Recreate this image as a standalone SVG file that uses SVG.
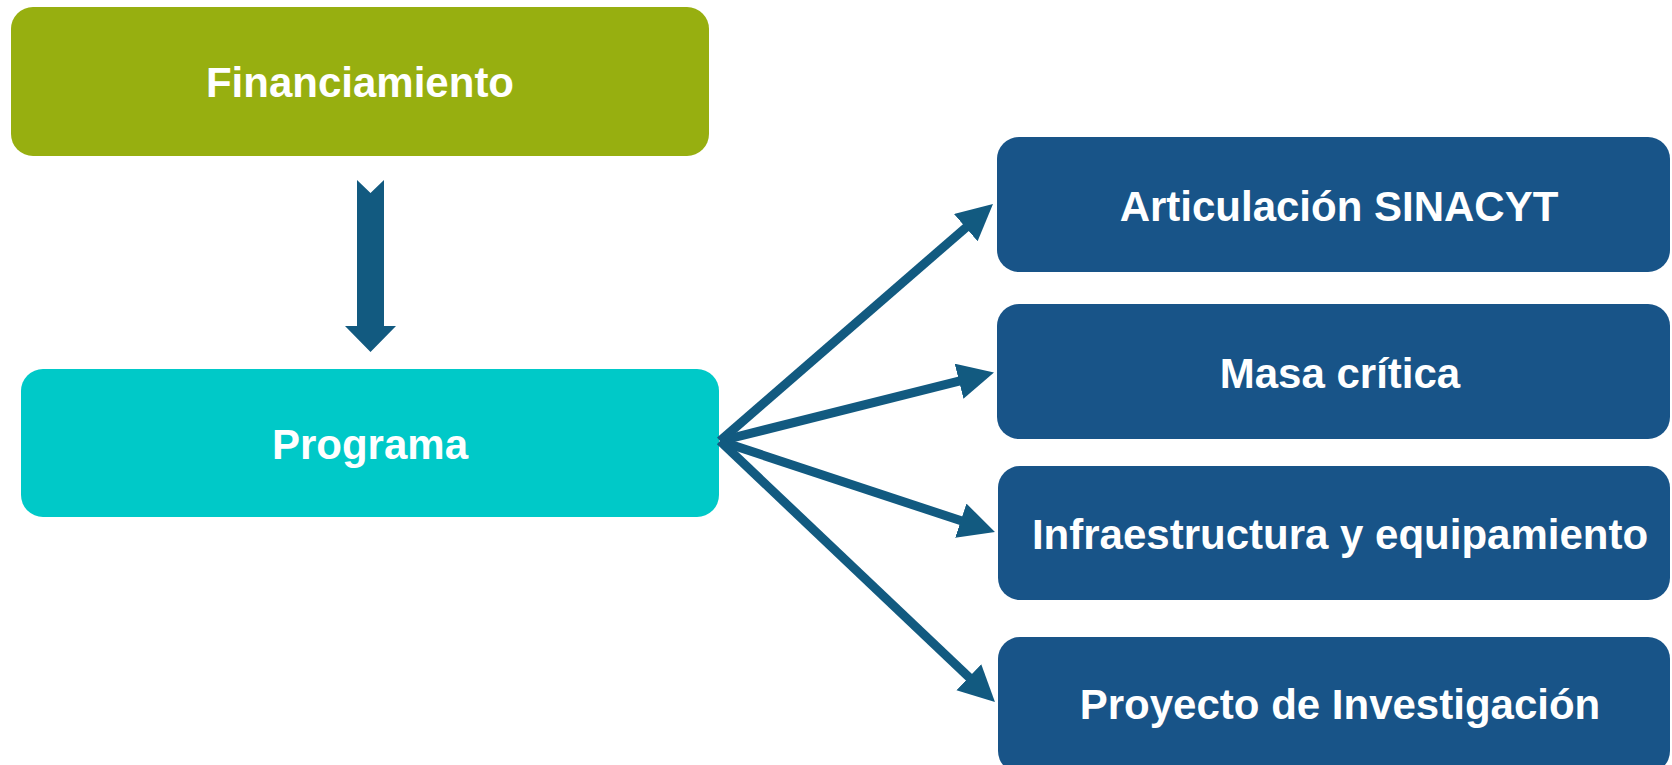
<svg xmlns="http://www.w3.org/2000/svg" width="1672" height="765" viewBox="0 0 1672 765">
  <style>
    .lbl { font-family: "Liberation Sans", Arial, sans-serif; font-weight: bold; font-size: 42px; fill: #ffffff; text-anchor: middle; }
    .blue { fill: #185488; }
    .conn { stroke: #125A80; stroke-width: 9; fill: none; }
  </style>
  <defs>
    <marker id="head" markerUnits="userSpaceOnUse" markerWidth="40" markerHeight="40" refX="2" refY="18" orient="auto" viewBox="0 0 40 40">
      <path d="M0,0 L36,18 L0,36 Z" fill="#125A80"/>
    </marker>
  </defs>
  <rect width="1672" height="765" fill="#ffffff"/>

  <g id="financiamiento">
    <rect x="11" y="7" width="698" height="149" rx="22" fill="#97AF10"/>
    <text class="lbl" x="360" y="97">Financiamiento</text>
  </g>
  <g id="programa">
    <rect x="21" y="369" width="698" height="148" rx="22" fill="#00C9C8"/>
    <text class="lbl" x="370" y="459">Programa</text>
  </g>
  <g id="articulacion">
    <rect class="blue" x="997" y="137" width="673" height="135" rx="22"/>
    <text class="lbl" x="1339" y="221">Articulación SINACYT</text>
  </g>
  <g id="masa">
    <rect class="blue" x="997" y="304" width="673" height="135" rx="22"/>
    <text class="lbl" x="1340" y="388">Masa crítica</text>
  </g>
  <g id="infraestructura">
    <rect class="blue" x="998" y="466" width="672" height="134" rx="22"/>
    <text class="lbl" x="1340" y="549">Infraestructura y equipamiento</text>
  </g>
  <g id="proyecto">
    <rect class="blue" x="998" y="637" width="672" height="136" rx="22"/>
    <text class="lbl" x="1340" y="719">Proyecto de Investigación</text>
  </g>

  <g id="connectors">
    <polygon points="357,180 370.5,193 384,180 384,326 396,326 370.5,352 345,326 357,326" fill="#125A80"/>
    <line class="conn" x1="720" y1="441" x2="967.3" y2="226.3" marker-end="url(#head)"/>
    <line class="conn" x1="720" y1="441" x2="961" y2="380.7" marker-end="url(#head)"/>
    <line class="conn" x1="720" y1="441" x2="962.7" y2="521.3" marker-end="url(#head)"/>
    <line class="conn" x1="720" y1="441" x2="970.3" y2="678.6" marker-end="url(#head)"/>
  </g>
</svg>
